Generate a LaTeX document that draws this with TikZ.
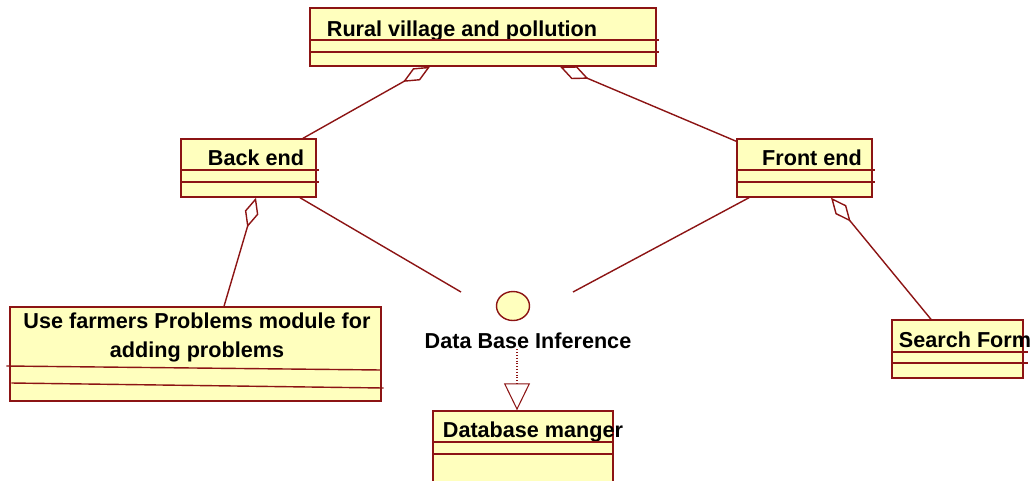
\documentclass[tikz,border=0pt]{standalone}
\usepackage{fontspec}
\setmainfont{Liberation Sans}
\usetikzlibrary{arrows.meta, positioning, shapes.geometric}
\definecolor{rosered}{RGB}{140,20,20}
\definecolor{roseyellow}{RGB}{255,255,190}

\begin{document}
\begin{tikzpicture}[
    classbox/.style={draw=rosered, fill=roseyellow, line width=0.8pt, minimum height=1.16cm, inner sep=0pt},
    classname/.style={font=\fontsize{12.3}{16.4}\selectfont\bfseries, align=center, inner sep=0pt},
    compart/.style={draw=rosered, line width=0.8pt},
    aggr/.style={{Diamond[open, length=0.62cm, width=0.28cm]}-, draw=rosered, line width=0.8pt},
    assoc/.style={draw=rosered, line width=0.8pt},
    realize/.style={-{Triangle[open, length=0.54cm, width=0.52cm]}, draw=rosered, densely dotted, line width=0.6pt},
    iface/.style={draw=rosered, fill=roseyellow, ellipse, line width=0.8pt, minimum width=0.66cm, minimum height=0.58cm, inner sep=0pt}
]
    \useasboundingbox (0,0) rectangle (20.66,-9.60);

    % classes
    \node[classbox, minimum width=6.92cm] (rural) at (9.66,-0.74) {};
    \node[classname] (rural-name) at (9.24,-0.62) {Rural village and pollution};
    \draw[compart] ([yshift=-0.06cm]rural.west) -- ([yshift=-0.06cm, xshift=0.04cm]rural.east);
    \draw[compart] ([yshift=-0.30cm]rural.west) -- ([yshift=-0.30cm, xshift=0.04cm]rural.east);

    \node[classbox, minimum width=2.70cm] (backend) at (4.97,-3.36) {};
    \node[classname] (backend-name) at (5.12,-3.16) {Back end};
    \draw[compart] ([yshift=-0.04cm]backend.west) -- ([yshift=-0.04cm, xshift=0.04cm]backend.east);
    \draw[compart] ([yshift=-0.28cm]backend.west) -- ([yshift=-0.28cm, xshift=0.04cm]backend.east);

    \node[classbox, minimum width=2.70cm] (frontend) at (16.09,-3.36) {};
    \node[classname] (frontend-name) at (16.24,-3.16) {Front end};
    \draw[compart] ([yshift=-0.04cm]frontend.west) -- ([yshift=-0.04cm, xshift=0.04cm]frontend.east);
    \draw[compart] ([yshift=-0.28cm]frontend.west) -- ([yshift=-0.28cm, xshift=0.04cm]frontend.east);

    \node[classbox, minimum width=7.42cm, minimum height=1.88cm] (farmers) at (3.91,-7.08) {};
    \node[classname] (farmers-name) at (3.94,-6.75) {Use farmers Problems module for\\adding problems};
    \draw[compart] ([xshift=-0.06cm, yshift=-0.24cm]farmers.west) -- ([yshift=-0.32cm]farmers.east);
    \draw[compart] ([xshift=0.04cm, yshift=-0.58cm]farmers.west) -- ([xshift=0.04cm, yshift=-0.68cm]farmers.east);

    \node[classbox, minimum width=2.62cm] (search) at (19.15,-6.98) {};
    \node[classname] (search-name) at (19.30,-6.80) {Search Form};
    \draw[compart] ([yshift=-0.06cm]search.west) -- ([yshift=-0.06cm, xshift=0.08cm]search.east);
    \draw[compart] ([yshift=-0.28cm]search.west) -- ([yshift=-0.28cm, xshift=0.08cm]search.east);

    \node[classbox, minimum width=3.60cm, minimum height=1.50cm] (dbm) at (10.46,-8.97) {};
    \node[classname] (dbm-name) at (10.66,-8.64) {Database manger};
    \draw[compart] ([yshift=0.13cm]dbm.west) -- ([yshift=0.13cm, xshift=-0.02cm]dbm.east);
    \draw[compart] ([yshift=-0.11cm]dbm.west) -- ([yshift=-0.11cm, xshift=-0.02cm]dbm.east);

    % interface
    \node[iface] (dbi) at (10.26,-6.12) {};
    \node[classname] (dbi-label) at (10.56,-6.82) {Data Base Inference};
    \coordinate (be-end) at (9.22,-5.84);
    \coordinate (fe-end) at (11.46,-5.84);

    % relations
    \draw[aggr] ([xshift=-1.06cm]rural.south) -- ([xshift=1.09cm]backend.north);
    \draw[aggr] ([xshift=1.54cm]rural.south) -- ([yshift=-0.06cm]frontend.north west);
    \draw[aggr] ([xshift=0.15cm]backend.south) -- ([xshift=0.57cm]farmers.north);
    \draw[aggr] ([xshift=0.53cm]frontend.south) -- ([xshift=-0.53cm]search.north);
    \draw[assoc] ([xshift=1.03cm]backend.south) -- (be-end);
    \draw[assoc] ([xshift=-1.11cm]frontend.south) -- (fe-end);
    \draw[realize] ([xshift=-0.22cm]dbi-label.south) -- ([xshift=-0.22cm]dbi-label.south |- dbm.north);
\end{tikzpicture}
\end{document}
